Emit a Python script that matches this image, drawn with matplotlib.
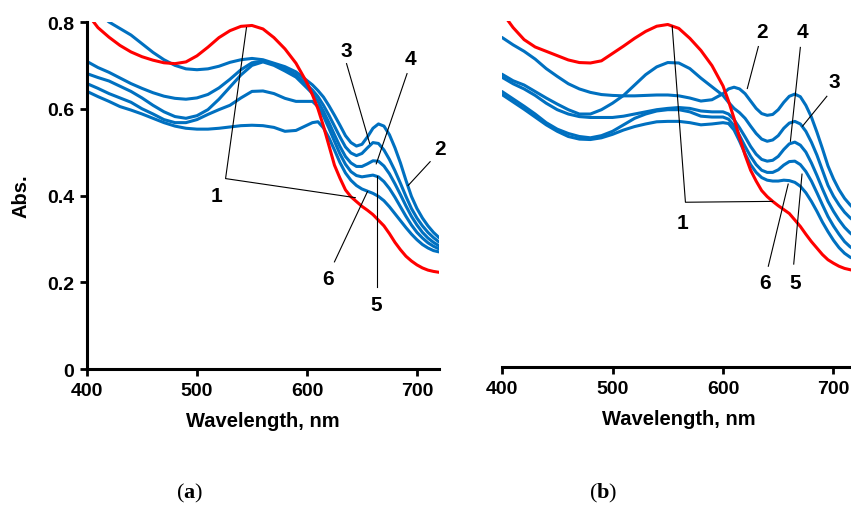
import matplotlib
matplotlib.use('Agg')
import matplotlib.pyplot as plt

plt.rcParams['font.family'] = 'Liberation Sans'
plt.rcParams['mathtext.fontset'] = 'custom'
plt.rcParams['mathtext.rm'] = 'Liberation Serif'
plt.rcParams['mathtext.bf'] = 'Liberation Serif:bold'

BLUE = '#0070C0'
RED = '#FF0000'

# wavelength grid, nm: 10 nm steps up to 590, then 5 nm steps
wl = list(range(400, 600, 10)) + list(range(600, 725, 5))

# ---- panel (a) spectra ----
a1 = [0.82, 0.787, 0.765, 0.746, 0.731, 0.72, 0.712, 0.706, 0.704, 0.708, 0.722, 0.742, 0.764, 0.78, 0.79, 0.792,
      0.784, 0.764, 0.738, 0.705,
      0.66, 0.632, 0.60, 0.56, 0.515, 0.47, 0.44, 0.413, 0.397, 0.386, 0.375, 0.366, 0.356, 0.343, 0.33, 0.312,
      0.292, 0.275, 0.26, 0.249, 0.24, 0.233, 0.228, 0.225, 0.223]
a2 = [0.845, 0.822, 0.80, 0.785, 0.77, 0.75, 0.73, 0.713, 0.70, 0.692, 0.69, 0.692, 0.698, 0.707, 0.713, 0.716,
      0.713, 0.705, 0.697, 0.685,
      0.665, 0.655, 0.642, 0.627, 0.607, 0.585, 0.562, 0.538, 0.522, 0.514, 0.518, 0.535, 0.555, 0.565, 0.56, 0.54,
      0.51, 0.475, 0.435, 0.398, 0.37, 0.348, 0.33, 0.315, 0.303]
a3 = [0.709, 0.695, 0.684, 0.671, 0.658, 0.647, 0.637, 0.629, 0.624, 0.622, 0.625, 0.633, 0.648, 0.668, 0.69, 0.706,
      0.71, 0.703, 0.692, 0.678,
      0.655, 0.643, 0.628, 0.608, 0.585, 0.56, 0.535, 0.512, 0.498, 0.492, 0.497, 0.51, 0.522, 0.52, 0.505, 0.483,
      0.457, 0.428, 0.398, 0.37, 0.348, 0.33, 0.315, 0.303, 0.293]
a4 = [0.681, 0.672, 0.664, 0.652, 0.64, 0.625, 0.608, 0.593, 0.582, 0.578, 0.584, 0.598, 0.622, 0.65, 0.678, 0.70,
      0.708, 0.70, 0.687, 0.673,
      0.648, 0.635, 0.617, 0.594, 0.568, 0.54, 0.513, 0.49, 0.475, 0.467, 0.467, 0.473, 0.48, 0.479, 0.468, 0.45,
      0.427, 0.402, 0.376, 0.352, 0.332, 0.315, 0.302, 0.292, 0.284]
a5 = [0.658, 0.647, 0.635, 0.625, 0.615, 0.60, 0.588, 0.575, 0.568, 0.568, 0.575, 0.587, 0.598, 0.608, 0.625, 0.64,
      0.641, 0.635, 0.624, 0.617,
      0.617, 0.617, 0.605, 0.583, 0.555, 0.525, 0.496, 0.472, 0.455, 0.446, 0.443, 0.445, 0.447, 0.443, 0.432, 0.416,
      0.396, 0.374, 0.352, 0.332, 0.315, 0.302, 0.291, 0.283, 0.277]
a6 = [0.64, 0.628, 0.617, 0.605, 0.597, 0.588, 0.578, 0.568, 0.56, 0.555, 0.553, 0.553, 0.555, 0.558, 0.561, 0.562,
      0.561, 0.557, 0.548, 0.55,
      0.562, 0.568, 0.57, 0.556, 0.533, 0.505, 0.476, 0.452, 0.435, 0.423, 0.415, 0.41, 0.405, 0.398, 0.388, 0.374,
      0.358, 0.342, 0.326, 0.311, 0.298, 0.287, 0.279, 0.273, 0.27]

# ---- panel (b) spectra ----
b1 = [0.82, 0.785, 0.757, 0.74, 0.73, 0.72, 0.71, 0.704, 0.703, 0.708, 0.725, 0.742, 0.76, 0.776, 0.788, 0.792,
      0.783, 0.76, 0.732, 0.697,
      0.65, 0.615, 0.575, 0.53, 0.49, 0.455, 0.43, 0.408, 0.394, 0.383, 0.373, 0.364, 0.355, 0.34, 0.325, 0.307,
      0.29, 0.275, 0.26, 0.248, 0.24, 0.233, 0.228, 0.225, 0.222]
b2 = [0.762, 0.745, 0.73, 0.712, 0.69, 0.672, 0.655, 0.643, 0.635, 0.63, 0.628, 0.627, 0.627, 0.628, 0.629, 0.629,
      0.627, 0.622, 0.615, 0.618,
      0.632, 0.643, 0.647, 0.643, 0.632, 0.615, 0.598, 0.586, 0.582, 0.584, 0.595, 0.612, 0.626, 0.631, 0.625, 0.605,
      0.578, 0.543, 0.505, 0.465, 0.435, 0.41, 0.39, 0.375, 0.362]
b3 = [0.677, 0.662, 0.652, 0.637, 0.622, 0.608, 0.595, 0.585, 0.585, 0.595, 0.61, 0.628, 0.652, 0.676, 0.694, 0.704,
      0.703, 0.69, 0.668, 0.648,
      0.628, 0.612, 0.598, 0.588, 0.575, 0.557, 0.54, 0.527, 0.522, 0.525, 0.535, 0.552, 0.564, 0.568, 0.562, 0.545,
      0.52, 0.49, 0.455, 0.42, 0.395, 0.375, 0.358, 0.345, 0.335]
b4 = [0.67, 0.655, 0.643, 0.628, 0.61, 0.595, 0.585, 0.579, 0.577, 0.577, 0.577, 0.58, 0.585, 0.59, 0.595, 0.598,
      0.60, 0.598, 0.592, 0.59,
      0.59, 0.585, 0.572, 0.553, 0.532, 0.51, 0.492, 0.48, 0.476, 0.478, 0.487, 0.503, 0.516, 0.52, 0.513, 0.497,
      0.472, 0.443, 0.412, 0.383, 0.36, 0.34, 0.323, 0.31, 0.30]
b5 = [0.637, 0.62, 0.603, 0.585, 0.565, 0.55, 0.54, 0.533, 0.53, 0.535, 0.545, 0.56, 0.575, 0.585, 0.592, 0.595,
      0.595, 0.59, 0.58, 0.578,
      0.578, 0.573, 0.558, 0.535, 0.51, 0.487, 0.468, 0.455, 0.45, 0.45, 0.456, 0.467, 0.475, 0.476, 0.468, 0.452,
      0.43, 0.403, 0.375, 0.348, 0.326, 0.307, 0.29, 0.278, 0.27]
b6 = [0.63, 0.613, 0.596, 0.578, 0.56, 0.545, 0.533, 0.527, 0.526, 0.53, 0.538, 0.548, 0.556, 0.562, 0.567, 0.568,
      0.568, 0.565, 0.56, 0.562,
      0.565, 0.563, 0.548, 0.522, 0.493, 0.468, 0.45, 0.438, 0.432, 0.43, 0.43, 0.432, 0.431, 0.427, 0.418, 0.403,
      0.383, 0.36, 0.335, 0.313, 0.293, 0.276, 0.263, 0.254, 0.248]

fig = plt.figure(figsize=(8.51, 5.10), dpi=100)
ax_a = fig.add_axes([0.1022, 0.2745, 0.4136, 0.6804])
ax_b = fig.add_axes([0.5899, 0.2784, 0.4155, 0.6784])

for ax, red, blues in [(ax_a, a1, [a2, a3, a4, a5, a6]), (ax_b, b1, [b2, b3, b4, b5, b6])]:
    for s in blues:
        ax.plot(wl, s, color=BLUE, lw=2.2, solid_capstyle='round')
    ax.plot(wl, red, color=RED, lw=2.2, solid_capstyle='round')
    ax.set_xlim(400, 720)
    ax.set_ylim(0, 0.8)
    ax.set_xticks([400, 500, 600, 700])
    ax.spines['top'].set_visible(False)
    ax.spines['right'].set_visible(False)
    ax.spines['bottom'].set_linewidth(2.2)
    ax.spines['left'].set_linewidth(2.2)
    ax.tick_params(width=2, length=5, labelsize=14, pad=4)
    for t in ax.get_xticklabels():
        t.set_fontweight('bold')
    ax.set_xlabel('Wavelength, nm', fontsize=14.5, fontweight='bold', labelpad=9)

ax_a.set_yticks([0, 0.2, 0.4, 0.6, 0.8])
ax_a.set_yticklabels(['0', '0.2', '0.4', '0.6', '0.8'], fontweight='bold')
ax_a.set_ylabel('Abs.', fontsize=14.5, fontweight='bold', labelpad=12)

ax_b.spines['left'].set_visible(False)
ax_b.set_yticks([])

# curve numbers with leader lines
lab = dict(fontsize=15, fontweight='bold', ha='center', va='center')
lead = dict(color='black', lw=0.8, clip_on=False)

ax_a.text(518, 0.40, '1', **lab)
ax_a.plot([545, 526, 644], [0.787, 0.439, 0.395], **lead)
ax_a.text(636, 0.735, '3', **lab)
ax_a.plot([636, 657], [0.704, 0.52], **lead)
ax_a.text(694, 0.716, '4', **lab)
ax_a.plot([691, 663], [0.681, 0.473], **lead)
ax_a.text(721, 0.508, '2', **lab)
ax_a.plot([712, 692], [0.478, 0.423], **lead)
ax_a.text(619, 0.208, '6', **lab)
ax_a.plot([625, 655], [0.247, 0.409], **lead)
ax_a.text(663, 0.148, '5', **lab)
ax_a.plot([663.6, 663.6], [0.19, 0.446], **lead)

ax_b.text(563, 0.335, '1', **lab)
ax_b.plot([554, 566, 645], [0.788, 0.381, 0.383], **lead)
ax_b.text(635, 0.776, '2', **lab)
ax_b.plot([632, 622], [0.741, 0.644], **lead)
ax_b.text(672, 0.776, '4', **lab)
ax_b.plot([670, 661], [0.739, 0.522], **lead)
ax_b.text(701, 0.66, '3', **lab)
ax_b.plot([694, 672], [0.626, 0.557], **lead)
ax_b.text(638, 0.196, '6', **lab)
ax_b.plot([641, 659], [0.233, 0.423], **lead)
ax_b.text(665, 0.196, '5', **lab)
ax_b.plot([664, 671.5], [0.238, 0.446], **lead)

fig.text(0.223, 0.033, r'($\mathbf{a}$)', fontsize=16, family='Liberation Serif', ha='center', va='center')
fig.text(0.709, 0.033, r'($\mathbf{b}$)', fontsize=16, family='Liberation Serif', ha='center', va='center')

fig.savefig('out.png', dpi=100)
